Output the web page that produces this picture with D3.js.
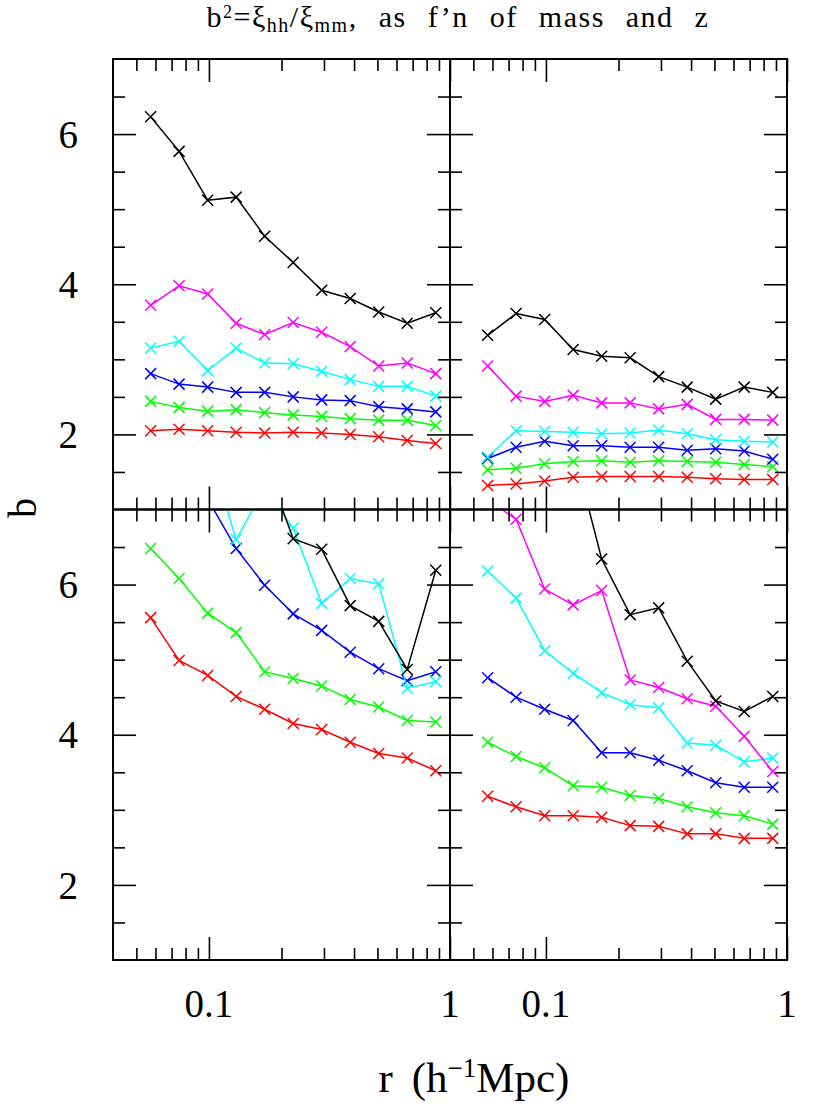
<!DOCTYPE html>
<html><head><meta charset="utf-8">
<script src="https://cdn.jsdelivr.net/npm/d3@7"></script>
<style>
html,body{margin:0;padding:0;background:#fff;}
svg text{font-family:"Liberation Serif","Times New Roman",serif;fill:#000;}
</style></head>
<body>
<svg id="chart" width="830" height="1106"></svg>
<script>
// ---- data ----
const rValues = [0.0573, 0.0752, 0.0988, 0.1297, 0.1703, 0.2236, 0.2936, 0.3855, 0.5062, 0.6646, 0.8728];

// top-left panel
const tlRed     = [2.05, 2.07, 2.05, 2.03, 2.02, 2.03, 2.02, 2.00, 1.97, 1.92, 1.88];
const tlGreen   = [2.44, 2.36, 2.31, 2.33, 2.29, 2.26, 2.24, 2.21, 2.19, 2.19, 2.12];
const tlBlue    = [2.81, 2.67, 2.63, 2.56, 2.56, 2.50, 2.46, 2.45, 2.37, 2.34, 2.30];
const tlCyan    = [3.15, 3.24, 2.85, 3.15, 2.95, 2.94, 2.84, 2.73, 2.64, 2.64, 2.51];
const tlMagenta = [3.72, 3.98, 3.87, 3.48, 3.33, 3.49, 3.36, 3.17, 2.91, 2.95, 2.81];
const tlBlack   = [6.23, 5.77, 5.12, 5.16, 4.64, 4.29, 3.92, 3.81, 3.63, 3.48, 3.62];

// top-right panel
const trRed     = [1.32, 1.34, 1.38, 1.43, 1.44, 1.44, 1.44, 1.43, 1.41, 1.40, 1.40];
const trGreen   = [1.53, 1.55, 1.61, 1.64, 1.65, 1.63, 1.65, 1.64, 1.63, 1.60, 1.57];
const trBlue    = [1.68, 1.83, 1.91, 1.85, 1.85, 1.83, 1.83, 1.79, 1.81, 1.78, 1.67];
const trCyan    = [1.70, 2.05, 2.04, 2.03, 2.01, 2.02, 2.06, 2.01, 1.93, 1.91, 1.90];
const trMagenta = [2.91, 2.51, 2.44, 2.52, 2.42, 2.42, 2.34, 2.40, 2.20, 2.20, 2.19];
const trBlack   = [3.32, 3.61, 3.53, 3.13, 3.04, 3.02, 2.77, 2.63, 2.47, 2.63, 2.56];

// bottom-left panel (null = off the top of the panel, not readable)
const blRed     = [5.56, 4.99, 4.79, 4.51, 4.34, 4.15, 4.07, 3.90, 3.75, 3.69, 3.52];
const blGreen   = [6.48, 6.08, 5.62, 5.36, 4.84, 4.75, 4.65, 4.47, 4.37, 4.19, 4.17];
const blBlue    = [null, null, 7.14, 6.48, 5.99, 5.61, 5.39, 5.10, 4.88, 4.72, 4.84];
const blCyan    = [null, null, 7.84, 6.60, 7.29, 6.75, 5.75, 6.08, 6.01, 4.62, 4.71];
const blMagenta = [null, null, null, null, null, null, null, null, null, null, null];
const blBlack   = [null, null, null, null, 7.65, 6.61, 6.47, 5.72, 5.51, 4.87, 6.19];

// bottom-right panel
const brRed     = [3.18, 3.04, 2.92, 2.92, 2.90, 2.79, 2.78, 2.68, 2.68, 2.62, 2.62];
const brGreen   = [3.90, 3.71, 3.56, 3.32, 3.30, 3.19, 3.15, 3.04, 2.96, 2.92, 2.81];
const brBlue    = [4.76, 4.50, 4.34, 4.19, 3.76, 3.76, 3.66, 3.52, 3.36, 3.30, 3.30];
const brCyan    = [6.18, 5.82, 5.12, 4.82, 4.56, 4.40, 4.36, 3.89, 3.86, 3.64, 3.69];
const brMagenta = [7.13, 6.87, 5.94, 5.73, 5.92, 4.73, 4.63, 4.48, 4.38, 3.98, 3.51];
const brBlack   = [null, null, null, 7.82, 6.34, 5.60, 5.69, 4.98, 4.45, 4.31, 4.51];

const seriesColors = ["#ff0000", "#00ff00", "#0000ff", "#00ffff", "#ff00ff", "#000000"];

const yMajorTicks = [2, 4, 6];
const yMinorTicks = [1.5, 2.5, 3, 3.5, 4.5, 5, 5.5, 6.5];
const yTickLabels = ["2", "4", "6"];
const xMajorTicks = [0.1, 1];
const xMinorTicks = [0.05, 0.06, 0.07, 0.08, 0.09, 0.2, 0.3, 0.4, 0.5, 0.6, 0.7, 0.8, 0.9];
const xTickLabels = ["0.1", "1"];

const panels = [
  {col: 0, row: 0, series: [tlRed, tlGreen, tlBlue, tlCyan, tlMagenta, tlBlack]},
  {col: 1, row: 0, series: [trRed, trGreen, trBlue, trCyan, trMagenta, trBlack]},
  {col: 0, row: 1, series: [blRed, blGreen, blBlue, blCyan, blMagenta, blBlack]},
  {col: 1, row: 1, series: [brRed, brGreen, brBlue, brCyan, brMagenta, brBlack]}
];

// ---- layout ----
const svg = d3.select("#chart");
const left0 = 113, top0 = 59, pw = 337, ph = 450.5;
const x = d3.scaleLog().domain([0.04, 1]).range([0, pw]);
const y = d3.scaleLinear().domain([1, 7]).range([ph, 0]);

const defs = svg.append("defs");
defs.append("clipPath").attr("id", "pclip")
  .append("rect").attr("x", 0).attr("y", 0).attr("width", pw).attr("height", ph);

const line = d3.line()
  .defined(d => d.b != null)
  .x(d => x(d.r)).y(d => y(d.b));

const major = 23, minor = 12;

panels.forEach(p => {
  const g = svg.append("g")
    .attr("transform", `translate(${left0 + p.col * pw},${top0 + p.row * ph})`);

  // data
  const dg = g.append("g").attr("clip-path", "url(#pclip)");
  p.series.forEach((vals, si) => {
    const pts = vals.map((b, i) => ({r: rValues[i], b}));
    const col = seriesColors[si];
    dg.append("path").datum(pts)
      .attr("d", line).attr("fill", "none")
      .attr("stroke", col).attr("stroke-width", 1.5);
    dg.selectAll(null).data(pts.filter(d => d.b != null)).enter()
      .append("path")
      .attr("transform", d => `translate(${x(d.r)},${y(d.b)})`)
      .attr("d", "M-5.5,-5.5L5.5,5.5M-5.5,5.5L5.5,-5.5")
      .attr("stroke", col).attr("stroke-width", 1.5).attr("fill", "none");
  });

  // ticks via d3 axes (inward)
  const mk = (axisFn, scale, vals, size, tr) => {
    const a = g.append("g").attr("transform", tr)
      .call(axisFn(scale).tickValues(vals).tickSize(size).tickFormat(""));
    a.select(".domain").remove();
    a.selectAll("line").attr("stroke", "#000").attr("stroke-width", 1.6);
  };
  mk(d3.axisLeft, y, yMajorTicks, -major, "translate(0,0)");
  mk(d3.axisLeft, y, yMinorTicks, -minor, "translate(0,0)");
  mk(d3.axisRight, y, yMajorTicks, -major, `translate(${pw},0)`);
  mk(d3.axisRight, y, yMinorTicks, -minor, `translate(${pw},0)`);
  mk(d3.axisTop, x, xMajorTicks, -major, "translate(0,0)");
  mk(d3.axisTop, x, xMinorTicks, -minor, "translate(0,0)");
  mk(d3.axisBottom, x, xMajorTicks, -major, `translate(0,${ph})`);
  mk(d3.axisBottom, x, xMinorTicks, -minor, `translate(0,${ph})`);

  // frame
  g.append("rect").attr("x", 0).attr("y", 0).attr("width", pw).attr("height", ph)
    .attr("fill", "none").attr("stroke", "#000").attr("stroke-width", 2);

  // tick labels
  if (p.col === 0) {
    g.selectAll(null).data(yMajorTicks).enter().append("text")
      .attr("x", -35).attr("y", d => y(d)).attr("dy", "0.35em")
      .attr("text-anchor", "end").attr("font-size", 39)
      .text((d, i) => yTickLabels[i]);
  }
  if (p.row === 1) {
    g.selectAll(null).data(xMajorTicks).enter().append("text")
      .attr("x", d => x(d)).attr("y", ph + 57)
      .attr("text-anchor", "middle").attr("font-size", 39)
      .text((d, i) => xTickLabels[i]);
  }
});

// title
const title = svg.append("text").attr("x", 458).attr("y", 27)
  .attr("text-anchor", "middle").attr("font-size", 30)
  .attr("letter-spacing", 1.5).attr("word-spacing", 12);
title.append("tspan").text("b");
title.append("tspan").attr("font-size", 18).attr("dy", -9).text("2");
title.append("tspan").attr("dy", 9).text("=ξ");
title.append("tspan").attr("font-size", 20).attr("dy", 5).text("hh");
title.append("tspan").attr("dy", -5).text("/ξ");
title.append("tspan").attr("font-size", 20).attr("dy", 5).text("mm");
title.append("tspan").attr("dy", -5).text(", as f’n of mass and z");

// axis labels
const xl = svg.append("text").attr("x", 474).attr("y", 1092)
  .attr("text-anchor", "middle").attr("font-size", 43).attr("word-spacing", 8);
xl.append("tspan").text("r (h");
xl.append("tspan").attr("font-size", 27).attr("dy", -15).text("−1");
xl.append("tspan").attr("dy", 15).text("Mpc)");

svg.append("text").attr("transform", "translate(36,508) rotate(-90)")
  .attr("text-anchor", "middle").attr("font-size", 40).text("b");
</script>
</body></html>
